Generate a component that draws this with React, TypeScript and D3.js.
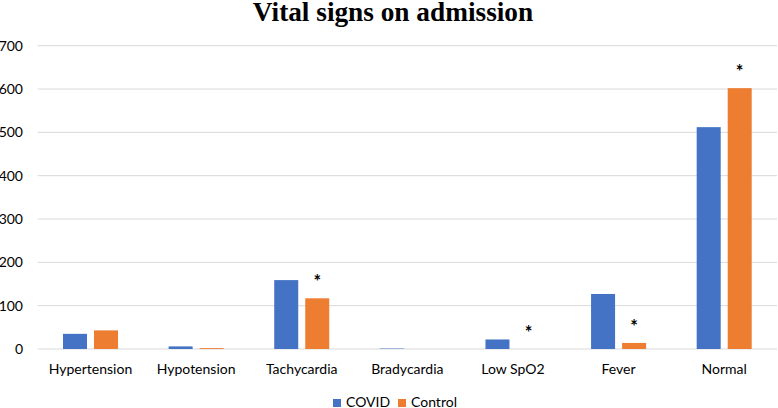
import React from "react";
import * as d3 from "d3";

const categories = ["Hypertension", "Hypotension", "Tachycardia", "Bradycardia", "Low SpO2", "Fever", "Normal"];
const seriesNames = ["COVID", "Control"];
const covidValues = [35, 6, 159, 1, 22, 127, 512];
const controlValues = [43, 2, 117, 0, 0, 14, 602];
const significant = [false, false, true, false, true, true, true];
const yTicks = [0, 100, 200, 300, 400, 500, 600, 700];
const colors = ["#4472C4", "#ED7D31"];

const W = 778;
const H = 408;
const FONT = "Lato, 'Open Sans', sans-serif";

export default function App() {
  const x0 = d3.scaleBand<string>().domain(categories).range([37.7, 777]).paddingInner(0).paddingOuter(0);
  const x1 = d3
    .scaleBand<string>()
    .domain(seriesNames)
    .range([0, x0.bandwidth()])
    .paddingInner(0.2258)
    .paddingOuter(0.816);
  const y = d3.scaleLinear().domain([0, 700]).range([349, 45.7]);
  const values = [covidValues, controlValues];

  return (
    <svg
      width={W}
      height={H}
      style={{ position: "absolute", left: 0, top: 0, background: "#fff" }}
      fontFamily={FONT}
    >
      <rect width={W} height={H} fill="#fff" />
      <g transform="translate(393,20.5) scale(0.975,1)">
        <text
          x={0}
          y={0}
          textAnchor="middle"
          fontFamily="'Liberation Serif', 'Times New Roman', serif"
          fontWeight="bold"
          fontSize={28}
          fill="#000"
        >
          Vital signs on admission
        </text>
      </g>
      {yTicks.map((t) => (
        <g key={t}>
          <line x1={37.7} x2={777} y1={y(t)} y2={y(t)} stroke="#d9d9d9" strokeWidth={1} />
          <text x={23} y={y(t)} dy="0.35em" textAnchor="end" fontSize={14} fill="#000">
            {t}
          </text>
        </g>
      ))}
      {categories.map((c, i) => (
        <g key={c} transform={`translate(${x0(c)},0)`}>
          {seriesNames.map((s, j) => {
            const v = values[j][i];
            return (
              <rect
                key={s}
                x={x1(s)}
                y={y(v)}
                width={x1.bandwidth()}
                height={Math.max(0, y(0) - y(v))}
                fill={colors[j]}
              />
            );
          })}
          {significant[i] && (
            <text
              x={(x1("Control") as number) + x1.bandwidth() / 2}
              y={y(controlValues[i]) - 20 + 10}
              textAnchor="middle"
              fontSize={18}
              fontWeight="bold"
              fill="#000"
            >
              *
            </text>
          )}
          <text x={x0.bandwidth() / 2} y={374.3} textAnchor="middle" fontSize={14} fill="#000">
            {c}
          </text>
        </g>
      ))}
      {seriesNames.map((s, j) => {
        const lx = j === 0 ? 333 : 398;
        return (
          <g key={s}>
            <rect x={lx} y={399} width={8} height={8} fill={colors[j]} />
            <text x={lx + 13} y={407} fontSize={14} fill="#000">
              {s}
            </text>
          </g>
        );
      })}
    </svg>
  );
}
